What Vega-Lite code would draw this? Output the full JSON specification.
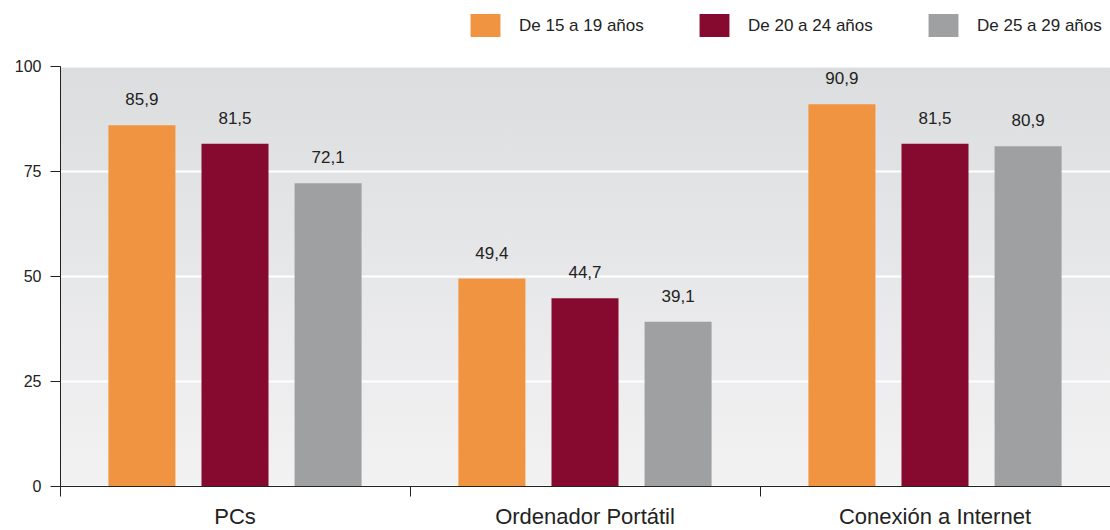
{
  "$schema": "https://vega.github.io/schema/vega-lite/v6.json",
  "width": 1050,
  "height": 420,
  "autosize": {"type": "none"},
  "padding": {"left": 60, "top": 66, "right": 0, "bottom": 44},
  "background": "white",
  "config": {
    "font": "Liberation Sans",
    "locale": {"number": {"decimal": ",", "thousands": ".", "grouping": [3], "currency": ["", "€"]}},
    "view": {
      "stroke": null,
      "fill": {
        "gradient": "linear", "x1": 0, "y1": 0, "x2": 0, "y2": 1,
        "stops": [{"offset": 0, "color": "#dcdddf"}, {"offset": 1, "color": "#f2f2f3"}]
      }
    }
  },
  "data": {
    "values": [
      {"equipo": "PCs", "edad": "De 15 a 19 años", "valor": 85.9},
      {"equipo": "PCs", "edad": "De 20 a 24 años", "valor": 81.5},
      {"equipo": "PCs", "edad": "De 25 a 29 años", "valor": 72.1},
      {"equipo": "Ordenador Portátil", "edad": "De 15 a 19 años", "valor": 49.4},
      {"equipo": "Ordenador Portátil", "edad": "De 20 a 24 años", "valor": 44.7},
      {"equipo": "Ordenador Portátil", "edad": "De 25 a 29 años", "valor": 39.1},
      {"equipo": "Conexión a Internet", "edad": "De 15 a 19 años", "valor": 90.9},
      {"equipo": "Conexión a Internet", "edad": "De 20 a 24 años", "valor": 81.5},
      {"equipo": "Conexión a Internet", "edad": "De 25 a 29 años", "valor": 80.9}
    ]
  },
  "encoding": {
    "x": {
      "field": "equipo", "type": "nominal",
      "sort": ["PCs", "Ordenador Portátil", "Conexión a Internet"],
      "scale": {"paddingInner": 0, "paddingOuter": 0},
      "axis": {
        "title": null, "labelAngle": 0, "bandPosition": 0,
        "ticks": true, "tickSize": 10, "tickColor": "#222", "tickWidth": 1,
        "domain": true, "domainColor": "#222", "domainWidth": 1,
        "labelFontSize": 22, "labelColor": "#222", "labelPadding": 10,
        "labelLimit": 400, "grid": false
      }
    },
    "xOffset": {
      "field": "edad", "type": "nominal",
      "scale": {"paddingInner": 0.28, "paddingOuter": 0.52}
    },
    "y": {
      "field": "valor", "type": "quantitative",
      "scale": {"domain": [0, 100], "nice": false},
      "axis": {
        "title": null, "values": [0, 25, 50, 75, 100],
        "grid": true, "gridColor": "white", "gridWidth": 2,
        "domain": true, "domainColor": "#222", "domainWidth": 1,
        "ticks": true, "tickSize": 10, "tickColor": "#222",
        "labelFontSize": 16, "labelColor": "#222", "labelPadding": 9
      }
    }
  },
  "layer": [
    {
      "mark": {"type": "bar"},
      "encoding": {
        "color": {
          "field": "edad", "type": "nominal",
          "scale": {"range": ["#f09441", "#860a30", "#9fa0a2"]},
          "legend": {
            "title": null, "orient": "none", "direction": "horizontal",
            "legendX": 414, "legendY": -52,
            "symbolType": "M-1.3,-1L1.3,-1L1.3,1L-1.3,1Z",
            "symbolSize": 529, "symbolStrokeWidth": 0,
            "labelFontSize": 17, "labelColor": "#222", "labelOffset": 22,
            "columnPadding": 55
          }
        }
      }
    },
    {
      "mark": {"type": "text", "dy": -25, "baseline": "middle", "fontSize": 17, "color": "#222"},
      "encoding": {
        "text": {"field": "valor", "type": "quantitative", "format": ".1f"}
      }
    }
  ]
}
